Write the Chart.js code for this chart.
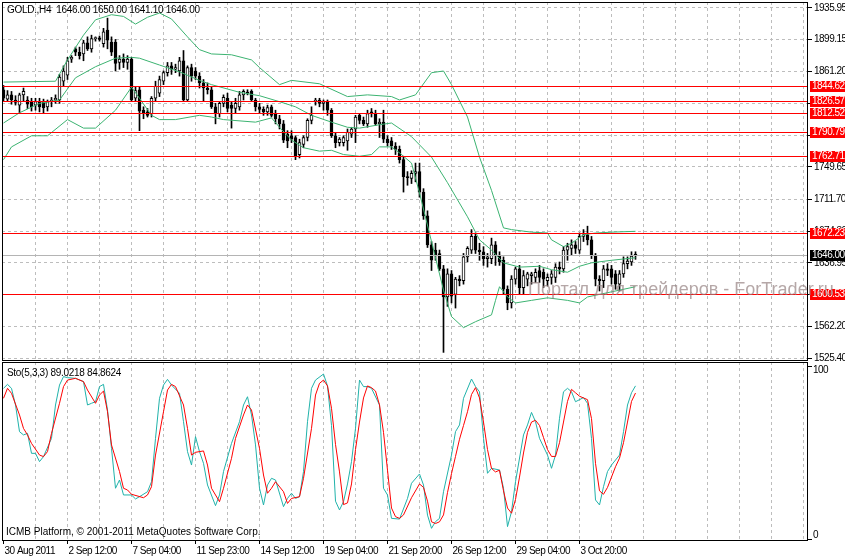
<!DOCTYPE html>
<html>
<head>
<meta charset="utf-8">
<script src="https://cdn.jsdelivr.net/npm/chart.js@4.4.0/dist/chart.umd.min.js"></script>
<style>
  html, body { margin: 0; padding: 0; background: #fff; }
  #wrap { position: relative; width: 845px; height: 558px; overflow: hidden; }
  canvas { position: absolute; left: 0; }
</style>
</head>
<body>
<div id="wrap">
  <canvas id="price" width="845" height="362" style="top:0"></canvas>
  <canvas id="sto" width="845" height="197" style="top:361px"></canvas>
</div>
<script>
// GOLD H4 candles, 30 Aug - 5 Oct 2011
const barOpen  = [1840,1829,1834,1828,1822,1834,1828,1826,1822,1826,1826,1820,1826,1828,1828,1850,1857,1876,1888,1884,
                  1882,1895,1888,1900,1901,1894,1910,1896,1896,1872,1876,1872,1876,1830,1840,1816,1814,1812,1830,1836,
                  1850,1860,1868,1864,1862,1874,1828,1866,1862,1856,1848,1842,1840,1820,1812,1824,1830,1822,1818,1820,
                  1834,1837,1838,1828,1820,1817,1814,1820,1812,1806,1800,1788,1786,1784,1764,1776,1784,1804,1826,1828,
                  1824,1826,1816,1786,1778,1778,1780,1788,1794,1810,1804,1800,1814,1812,1800,1802,1782,1780,1774,1770,
                  1758,1738,1736,1742,1744,1720,1692,1658,1652,1648,1630,1597,1624,1600,1618,1616,1644,1652,1668,1652,
                  1650,1642,1642,1658,1646,1640,1606,1590,1618,1630,1608,1618,1622,1620,1628,1626,1616,1620,1620,1632,
                  1630,1652,1654,1658,1652,1668,1670,1664,1646,1618,1616,1630,1630,1624,1612,1624,1636,1638,1646];
const barHigh  = [1845,1839,1838,1833,1836,1842,1832,1830,1830,1830,1829,1828,1831,1834,1858,1868,1878,1880,1890,1890,
                  1898,1902,1904,1902,1903,1912,1924,1902,1899,1880,1882,1880,1878,1844,1844,1820,1818,1832,1850,1856,
                  1862,1872,1872,1870,1878,1886,1868,1870,1866,1860,1852,1848,1844,1824,1826,1834,1836,1826,1830,1838,
                  1840,1840,1840,1830,1824,1820,1822,1822,1816,1810,1804,1792,1792,1786,1782,1786,1806,1820,1830,1830,
                  1828,1828,1818,1790,1784,1786,1794,1796,1810,1812,1808,1816,1818,1816,1806,1816,1786,1784,1778,1774,
                  1762,1744,1745,1754,1754,1724,1698,1662,1660,1652,1634,1630,1628,1620,1622,1648,1656,1676,1672,1660,
                  1656,1648,1666,1662,1650,1644,1610,1622,1632,1634,1628,1626,1626,1630,1634,1630,1624,1628,1636,1638,
                  1656,1660,1664,1662,1672,1676,1680,1668,1648,1622,1634,1636,1634,1628,1628,1644,1644,1650,1650];
const barLow   = [1826,1826,1823,1822,1812,1826,1818,1815,1816,1814,1813,1815,1820,1824,1824,1844,1852,1872,1880,1876,
                  1874,1886,1884,1897,1897,1890,1888,1880,1862,1864,1866,1864,1826,1826,1792,1806,1808,1808,1826,1832,
                  1846,1856,1858,1860,1856,1826,1826,1850,1852,1842,1826,1835,1818,1800,1808,1820,1814,1795,1812,1816,
                  1828,1834,1826,1815,1812,1810,1810,1808,1800,1794,1778,1772,1778,1758,1760,1772,1780,1800,1822,1820,
                  1816,1810,1784,1772,1774,1774,1769,1784,1778,1800,1798,1796,1808,1798,1784,1778,1774,1770,1764,1754,
                  1720,1728,1730,1732,1714,1688,1655,1628,1640,1628,1532,1586,1590,1584,1610,1612,1638,1648,1648,1640,
                  1634,1632,1636,1634,1634,1600,1582,1584,1612,1600,1600,1610,1612,1614,1614,1608,1610,1612,1614,1624,
                  1626,1640,1646,1648,1648,1662,1658,1642,1610,1604,1608,1622,1612,1606,1604,1620,1630,1634,1641.1];
const barClose = [1830,1834,1828,1825,1834,1838,1823,1820,1826,1820,1819,1826,1828,1830,1855,1862,1874,1878,1884,1880,
                  1895,1888,1900,1901,1899,1908,1898,1884,1871,1876,1872,1876,1828,1839,1815,1812,1810,1830,1844,1852,
                  1860,1868,1864,1866,1874,1828,1866,1856,1856,1848,1842,1840,1820,1812,1824,1831,1818,1818,1824,1834,
                  1838,1836,1828,1820,1817,1814,1819,1810,1806,1800,1781,1780,1782,1762,1778,1784,1804,1810,1828,1824,
                  1826,1816,1786,1778,1782,1784,1790,1794,1808,1804,1800,1812,1812,1800,1802,1782,1778,1774,1770,1758,
                  1738,1737,1742,1744,1720,1692,1658,1640,1646,1630,1597,1624,1598,1618,1616,1644,1654,1668,1652,1650,
                  1642,1644,1658,1646,1638,1606,1590,1618,1630,1608,1622,1624,1624,1626,1620,1618,1620,1624,1632,1630,
                  1652,1656,1658,1654,1668,1670,1664,1646,1618,1616,1630,1628,1620,1612,1624,1636,1639,1645,1646];

// Bollinger bands, [bar, price]
const bandUpper = [[0,1849],[13,1850],[16,1875],[20,1904],[23,1922],[27,1928],[30,1926],[33,1917],[36,1925],[39,1930],
                   [42,1923],[46,1902],[49,1887],[52,1882],[57,1881],[62,1875],[64,1866],[69,1846],[72,1851],[79,1847],
                   [86,1832],[91,1834],[97,1832],[99,1828],[103,1834],[107,1860],[110,1862],[112,1846],[116,1808],[119,1761],
                   [122,1722],[125,1678],[127,1676],[132,1673],[136,1672],[137,1664],[140,1656],[142,1660],[145,1670],[148,1672],
                   [152,1673],[158,1674]];
const bandMiddle = [[0,1801],[4,1813],[9,1824],[14,1828],[18,1854],[23,1867],[28,1877],[32,1878],[34,1877],[39,1869],
                    [44,1861],[49,1851],[52,1846],[59,1837],[64,1833],[69,1826],[73,1820],[77,1810],[82,1802],[86,1796],
                    [89,1795],[94,1799],[97,1801],[102,1785],[107,1761],[111,1731],[116,1691],[119,1664],[122,1652],[125,1637],
                    [129,1632],[134,1633],[137,1629],[141,1626],[144,1633],[147,1637],[152,1640],[158,1643]];
const bandLower = [[0,1758],[2,1773],[7,1786],[11,1786],[16,1805],[20,1795],[23,1795],[28,1816],[32,1843],[34,1830],
                   [37,1810],[39,1805],[43,1805],[49,1810],[52,1808],[55,1805],[63,1802],[67,1807],[69,1796],[72,1781],
                   [75,1772],[79,1768],[82,1769],[85,1764],[89,1762],[92,1764],[94,1773],[97,1773],[99,1766],[102,1754],
                   [104,1719],[110,1605],[112,1574],[115,1561],[118,1568],[122,1576],[123,1593],[124,1609],[126,1597],[128,1590],
                   [132,1593],[136,1596],[141,1593],[144,1590],[146,1597],[152,1603],[158,1609]];

// Stochastic (5,3,3): main and signal, [bar, value]
const stoMain = [[0,87.6],[1,89.9],[2,87.6],[3,77.9],[4,62.4],[5,60.5],[6,61.4],[7,49.8],[8,49.8],[9,45],[10,47.9],[12,58.5],
                 [13,77.9],[14,89.5],[15,94.4],[16,93.8],[18,93.4],[20,91.5],[21,77.9],[22,78.9],[23,79.8],[24,88.6],[25,89.9],
                 [26,75],[27,52.7],[28,29.5],[29,34.3],[30,25.6],[32,25.6],[33,23.3],[34,24.6],[36,27.5],[37,33.3],[38,58.5],
                 [39,81.8],[40,89.5],[41,92.8],[42,89.5],[44,84.7],[45,68.2],[46,50.8],[47,43],[48,59.5],[49,50.8],[50,44],
                 [51,31.4],[53,19.4],[54,25.6],[55,39.2],[57,55.6],[59,68.2],[60,77.9],[61,82.7],[62,72.1],[63,54.7],[64,29.5],
                 [65,19.8],[66,31.4],[67,35.3],[68,34.3],[70,18.8],[71,23.6],[72,26.6],[73,23.6],[74,24.6],[75,39.2],[76,68.2],
                 [77,87.6],[78,92.4],[80,95.9],[81,89],[82,66],[83,22],[84,16.9],[85,21.7],[86,32],[87,45],[88,64.3],[89,92.4],
                 [90,88.6],[91,88.6],[92,87.6],[94,77.9],[95,29.5],[96,25.6],[97,12],[99,11.6],[101,23.6],[102,32.4],[104,37.8],
                 [105,31.4],[106,13.9],[107,6.2],[108,10.1],[109,12],[110,27.5],[112,48.8],[113,62.4],[114,66.3],[115,81.8],
                 [117,93],[118,88.6],[119,85.6],[120,58.5],[121,38.2],[122,41.1],[124,40.1],[125,29.5],[126,7.2],[127,15.9],
                 [128,33.3],[130,60.5],[131,66.3],[132,73.6],[133,68.2],[134,58.5],[136,48.8],[137,41.1],[138,48.8],[139,70.2],
                 [140,85.6],[141,87.6],[142,85.6],[143,79.8],[145,82.2],[146,78.9],[147,58.5],[148,22.7],[149,19.8],[150,30.4],
                 [151,39.2],[152,43],[154,48.8],[155,62.4],[156,77.9],[157,85],[158,89.0218]];
const stoSignal = [[0,81.8],[1,87.6],[2,84.7],[4,72.1],[5,64.3],[6,60.5],[7,55.6],[9,48.8],[10,47.9],[11,50.8],[12,61.4],
                   [14,78.9],[15,88.6],[16,92.4],[18,93.4],[20,91.5],[21,86.6],[23,78.9],[24,83.7],[25,86],[26,74],[27,54.7],
                   [29,39.2],[30,29.5],[31,28.5],[32,26],[35,24],[36,25.6],[37,30.4],[38,48.8],[40,74],[41,86.6],[42,89.9],
                   [43,88.6],[45,77.9],[46,64.3],[47,48.8],[48,50.4],[50,51.2],[51,43],[52,29.5],[54,21.7],[55,29.5],[57,46.9],
                   [58,58.5],[60,72.1],[61,77.9],[62,75],[64,52.7],[65,37.2],[66,26.6],[67,29.5],[68,33.3],[70,27.5],[71,20.7],
                   [72,23.6],[74,24.6],[75,35.3],[77,64.3],[78,83.7],[79,90.5],[80,92.4],[81,89],[82,76],[83,55],[84,39],
                   [85,20],[86,21],[87,32],[88,52],[89,68],[90,82],[91,89],[92,88],[93,86],[94,78],[95,62],[96,40],[97,18],
                   [98,13],[99,12],[100,14],[102,24],[104,32],[105,30],[106,22],[107,10],[108,9],[109,10],[110,14],[111,27],
                   [112,38],[113,48],[114,58],[115,66],[116,74],[117,84],[118,88],[119,82],[120,68],[121,52],[122,41],[123,39],
                   [124,40],[125,28],[126,18],[127,15],[128,23],[129,36],[130,50],[131,62],[132,68],[133,69],[134,66],[135,59],
                   [136,52],[137,48],[138,48],[139,56],[140,68],[141,80],[142,87],[143,85],[144,83],[145,82],[146,81],[147,70],
                   [148,44],[149,28],[150,26],[151,30],[152,36],[153,42],[154,47],[155,56],[156,68],[157,80],[158,84.8624]];

// horizontal levels drawn on the chart
const levels = [1844.62, 1826.57, 1812.52, 1790.79, 1762.71, 1672.23, 1600.53];
const priceTicks = [1525.40, 1562.20, 1599.55, 1636.95, 1674.30, 1711.70, 1749.65, 1786.85, 1824.05, 1861.20, 1899.15, 1935.95];
const labelBars = [0, 16, 32, 48, 64, 80, 96, 112, 128, 144];
const timeLabels = ['30 Aug 2011', '2 Sep 12:00', '7 Sep 04:00', '11 Sep 23:00', '14 Sep 12:00',
                    '19 Sep 04:00', '21 Sep 20:00', '26 Sep 12:00', '29 Sep 04:00', '3 Oct 20:00'];

const FONT = '"Liberation Sans", Arial, sans-serif';
const GRID = '#bdbdbd';
const TIGHT = '-0.5px';
Chart.defaults.font.family = FONT;
Chart.defaults.font.size = 10;
Chart.defaults.color = '#000';

const last = barClose.length - 1;
const xMin = -0.375, xMax = 201.125;
const gridBars = [];
for (let b = 8; b <= 200; b += 8) gridBars.push(b);

const toXY = arr => arr.map(([x, y]) => ({ x, y }));
const line = (data, color, order) => ({
  type: 'line', data: toXY(data), borderColor: color, borderWidth: 1,
  pointRadius: 0, tension: 0, fill: false, order
});

const frame = (ctx, a) => {
  ctx.strokeStyle = '#000';
  ctx.lineWidth = 1;
  ctx.strokeRect(a.left + 0.5, a.top + 0.5, a.right - a.left - 1, a.bottom - a.top - 1);
};

// tighter letters, closer to the terminal's small font
const tight = {
  id: 'tight',
  beforeLayout(chart) { chart.ctx.letterSpacing = TIGHT; },
  beforeDraw(chart) { chart.ctx.letterSpacing = TIGHT; }
};

// levels, bid line, price boxes, header and watermark on the price panel
const priceDecor = {
  id: 'priceDecor',
  afterDatasetsDraw(chart) {
    const { ctx, chartArea: a, scales: { y } } = chart;
    ctx.save();
    ctx.lineWidth = 1;
    const bidY = Math.round(y.getPixelForValue(barClose[last])) + 0.5;
    ctx.strokeStyle = '#b4b4b4';
    ctx.beginPath(); ctx.moveTo(a.left, bidY); ctx.lineTo(a.right, bidY); ctx.stroke();
    ctx.strokeStyle = '#ff0000';
    levels.forEach(v => {
      const p = Math.round(y.getPixelForValue(v)) + 0.5;
      ctx.beginPath(); ctx.moveTo(a.left, p); ctx.lineTo(a.right, p); ctx.stroke();
    });
    frame(ctx, a);

    ctx.letterSpacing = TIGHT;
    ctx.font = '10px ' + FONT;
    ctx.textBaseline = 'middle';
    const box = (v, bg) => {
      const p = Math.round(y.getPixelForValue(v));
      ctx.fillStyle = bg;
      ctx.fillRect(a.right + 2, p - 5, 40, 11);
      ctx.fillStyle = '#fff';
      ctx.fillText(v.toFixed(2), a.right + 4, p + 0.5);
    };
    levels.forEach(v => box(v, '#ff0000'));
    box(barClose[last], '#000');

    ctx.letterSpacing = '-0.3px';
    ctx.fillStyle = '#000';
    ctx.fillText('GOLD.,H4  ' + [barOpen[last], barHigh[last], barLow[last], barClose[last]].map(v => v.toFixed(2)).join(' '), 7, 10.5);

    ctx.letterSpacing = '0px';
    ctx.font = '18px ' + FONT;
    ctx.textBaseline = 'alphabetic';
    ctx.fillStyle = 'rgba(150,130,130,0.7)';
    ctx.fillText('Портал для трейдеров - ForTrader.ru', 528, 295);
    ctx.restore();
  }
};

new Chart(document.getElementById('price'), {
  type: 'bar',
  data: {
    datasets: [
      line(bandUpper, '#3cb371', 0),
      line(bandMiddle, '#3cb371', 0),
      line(bandLower, '#3cb371', 0),
      {
        // candle bodies
        data: barOpen.map((o, i) => ({ x: i, y: [o, barClose[i]] })),
        backgroundColor: barOpen.map((o, i) => barClose[i] > o ? '#ffffff' : '#000000'),
        borderColor: '#000', borderWidth: 1, borderSkipped: false,
        barThickness: 3, minBarLength: 1, grouped: false, order: 1
      },
      {
        // wicks
        data: barLow.map((l, i) => ({ x: i, y: [l, barHigh[i]] })),
        backgroundColor: '#000', borderWidth: 0,
        barThickness: 1, grouped: false, order: 2
      }
    ]
  },
  options: {
    responsive: false,
    animation: false,
    layout: { padding: { left: 2, top: 2, right: 0, bottom: 1 } },
    plugins: { legend: { display: false }, tooltip: { enabled: false } },
    scales: {
      x: {
        type: 'linear', min: xMin, max: xMax, offset: false,
        afterBuildTicks: s => { s.ticks = gridBars.map(v => ({ value: v })); },
        afterFit: s => { s.height = 0; s.paddingLeft = 0; s.paddingRight = 0; },
        ticks: { display: false },
        grid: { color: GRID, drawTicks: false, offset: false },
        border: { display: false, dash: [3, 3] }
      },
      y: {
        position: 'right', min: 1521.9, max: 1942.9,
        afterBuildTicks: s => { s.ticks = priceTicks.map(v => ({ value: v })); },
        afterFit: s => { s.width = 37; s.paddingTop = 0; s.paddingBottom = 0; },
        ticks: { callback: v => v.toFixed(2), padding: 2, autoSkip: false },
        grid: { color: GRID, tickColor: '#000', tickLength: 4, tickBorderDash: [] },
        border: { display: false, dash: [3, 3] }
      }
    }
  },
  plugins: [tight, priceDecor]
});

// stochastic panel
const stoDecor = {
  id: 'stoDecor',
  afterDatasetsDraw(chart) {
    const { ctx, chartArea: a, scales: { y } } = chart;
    ctx.save();
    frame(ctx, a);
    ctx.font = '10px ' + FONT;
    ctx.textBaseline = 'middle';
    ctx.fillStyle = '#000';
    const k = stoMain[stoMain.length - 1][1], d = stoSignal[stoSignal.length - 1][1];
    ctx.letterSpacing = '-0.3px';
    ctx.fillText('Sto(5,3,3) ' + k.toFixed(4) + ' ' + d.toFixed(4), 7, 12.5);
    ctx.letterSpacing = '0px';
    ctx.fillText('ICMB Platform, © 2001-2011 MetaQuotes Software Corp.', 6, 171.5);
    ctx.letterSpacing = TIGHT;
    ctx.fillText('100', a.right + 5, y.getPixelForValue(100) + 3);
    ctx.fillText('0', a.right + 5, y.getPixelForValue(0) - 4);
    ctx.restore();
  }
};

new Chart(document.getElementById('sto'), {
  type: 'line',
  data: {
    datasets: [
      line(stoMain, '#20b2aa', 1),
      line(stoSignal, '#ff0000', 0)
    ]
  },
  options: {
    responsive: false,
    animation: false,
    layout: { padding: { left: 2, top: 1, right: 0, bottom: 0 } },
    plugins: { legend: { display: false }, tooltip: { enabled: false } },
    scales: {
      x: {
        type: 'linear', min: xMin, max: xMax, offset: false,
        afterBuildTicks: s => { s.ticks = [0].concat(gridBars).map(v => ({ value: v })); },
        afterFit: s => { s.height = 17; s.paddingLeft = 0; s.paddingRight = 0; },
        ticks: {
          autoSkip: false, maxRotation: 0, align: 'start', labelOffset: 1, padding: 1,
          callback: v => { const n = labelBars.indexOf(v); return n < 0 ? '' : timeLabels[n]; }
        },
        grid: {
          color: c => (c.tick && c.tick.value === 0) ? 'rgba(0,0,0,0)' : GRID,
          tickColor: c => (c.tick && labelBars.includes(c.tick.value)) ? '#000' : 'rgba(0,0,0,0)',
          tickLength: 3, tickBorderDash: [], offset: false
        },
        border: { display: false, dash: [3, 3] }
      },
      y: {
        position: 'right', min: -1.16, max: 102.9,
        afterBuildTicks: s => { s.ticks = [{ value: 0 }, { value: 100 }]; },
        afterFit: s => { s.width = 37; s.paddingTop = 0; s.paddingBottom = 0; },
        ticks: { callback: () => '', autoSkip: false },
        grid: { drawOnChartArea: false, tickColor: '#000', tickLength: 4 },
        border: { display: false }
      }
    }
  },
  plugins: [tight, stoDecor]
});
</script>
</body>
</html>
